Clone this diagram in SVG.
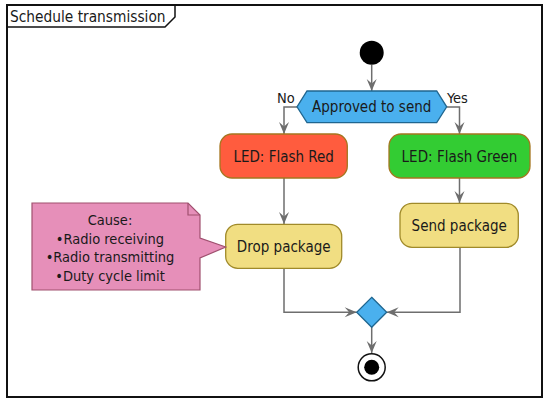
<svg xmlns="http://www.w3.org/2000/svg" width="552" height="403" viewBox="0 0 552 403">
<style>
text{font-family:"DejaVu Sans Condensed","DejaVu Sans",sans-serif;fill:#1a1a1a;}
.lbl{font-size:15px;text-anchor:middle;}
.edge{fill:none;stroke:#6e6e6e;stroke-width:1.5;}
.act{stroke-width:1.3;}
.note{font-size:14.5px;text-anchor:middle;}
</style>
<defs>
<marker id="ah" markerUnits="userSpaceOnUse" markerWidth="13" markerHeight="11" viewBox="0 0 13 11" refX="12.5" refY="5.5" orient="auto">
<path d="M0.5,0.5 L12.5,5.5 L0.5,10.5 L5,5.5 Z" fill="#6e6e6e"/>
</marker>
</defs>
<rect width="552" height="403" fill="#ffffff"/>
<g id="frame">
<rect x="7" y="5" width="535" height="392" fill="none" stroke="#111" stroke-width="2"/>
<path d="M7,27 H165 L175,17 V5" fill="none" stroke="#111" stroke-width="1.5"/>
<text x="10" y="21.5" style="font-size:15.3px">Schedule transmission</text>
</g>
<g id="connectors">
<path class="edge" d="M371.7,65 V91" marker-end="url(#ah)"/>
<path class="edge" d="M297,107 H284 V134" marker-end="url(#ah)"/>
<path class="edge" d="M446.7,107 H459.5 V134" marker-end="url(#ah)"/>
<path class="edge" d="M284,178 V224" marker-end="url(#ah)"/>
<path class="edge" d="M459.5,178 V203" marker-end="url(#ah)"/>
<path class="edge" d="M284,268 V312.3 H356.7" marker-end="url(#ah)"/>
<path class="edge" d="M460,247 V312.3 H386.7" marker-end="url(#ah)"/>
<path class="edge" d="M371.7,327 V353" marker-end="url(#ah)"/>
<text x="277" y="103" style="font-size:14.5px">No</text>
<text x="447" y="103" style="font-size:14.5px">Yes</text>
</g>
<g id="start">
<circle cx="371.7" cy="52.7" r="12" fill="#000"/>
</g>
<g id="decision">
<polygon points="297,106.8 307,91 436.7,91 446.7,106.8 436.7,122.6 307,122.6" fill="#4AB0EE" stroke="#1F6690" stroke-width="1.3"/>
<text class="lbl" x="371.7" y="112">Approved to send</text>
</g>
<g id="flashRed">
<rect class="act" x="220" y="134" width="127.3" height="44" rx="12" fill="#FF5C3E" stroke="#A5761F"/>
<text class="lbl" x="283.7" y="161.5">LED: Flash Red</text>
</g>
<g id="flashGreen">
<rect class="act" x="389" y="134" width="141" height="44" rx="12" fill="#33CC33" stroke="#A5761F"/>
<text class="lbl" x="459.5" y="161.5">LED: Flash Green</text>
</g>
<g id="dropPackage">
<rect class="act" x="225.7" y="224.3" width="116" height="44" rx="12" fill="#F1DE82" stroke="#A08A2A"/>
<text class="lbl" x="283.7" y="251.8">Drop package</text>
</g>
<g id="sendPackage">
<rect class="act" x="400" y="203.3" width="118.3" height="44" rx="12" fill="#F1DE82" stroke="#A08A2A"/>
<text class="lbl" x="459.2" y="230.8">Send package</text>
</g>
<g id="note">
<path d="M32,203 H188 L200,215 V238 L225.7,247 L200,258 V290 H32 Z" fill="#E68FB9" stroke="#A0506F" stroke-width="1.2"/>
<path d="M188,203 V215 H200" fill="none" stroke="#A0506F" stroke-width="1.2"/>
<text class="note" x="110" y="225">Cause:</text>
<text class="note" x="110" y="243.5">•Radio receiving</text>
<text class="note" x="110" y="262">•Radio transmitting</text>
<text class="note" x="110" y="280.5">•Duty cycle limit</text>
</g>
<g id="merge">
<polygon points="371.7,297.3 386.7,312.3 371.7,327.3 356.7,312.3" fill="#4AB0EE" stroke="#1F6690" stroke-width="1.3"/>
</g>
<g id="end">
<circle cx="371.7" cy="367.3" r="13.5" fill="#fff" stroke="#111" stroke-width="1.5"/>
<circle cx="371.7" cy="367.3" r="7.5" fill="#000"/>
</g>
</svg>
